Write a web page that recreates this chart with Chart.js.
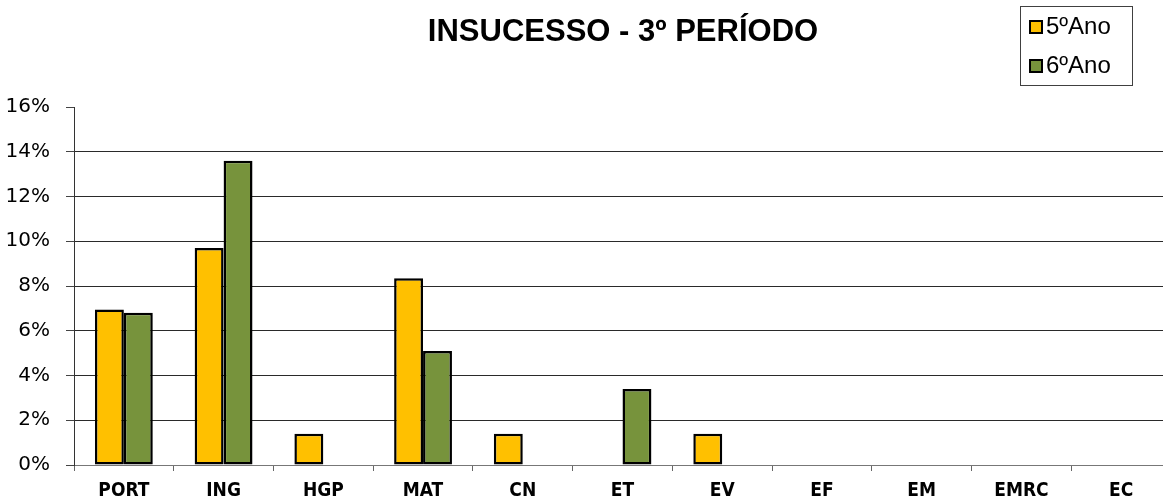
<!DOCTYPE html>
<html>
<head>
<meta charset="utf-8">
<script src="https://cdn.jsdelivr.net/npm/chart.js@4"></script>
<style>
  html, body { margin: 0; padding: 0; background: #fff; overflow: hidden; }
  #wrap { position: relative; width: 1180px; height: 504px; }
</style>
</head>
<body>
<div id="wrap"><canvas id="c" width="1180" height="504"></canvas></div>
<script>
const title = 'INSUCESSO - 3º PERÍODO';
const categories = ['PORT', 'ING', 'HGP', 'MAT', 'CN', 'ET', 'EV', 'EF', 'EM', 'EMRC', 'EC'];
const seriesNames = ['5ºAno', '6ºAno'];
const ano5 = [0.0695, 0.097, 0.014, 0.0835, 0.014, null, 0.014, null, null, null, null];
const ano6 = [0.068, 0.136, null, 0.051, null, 0.034, null, null, null, null, null];
const yTicks = [0, 0.02, 0.04, 0.06, 0.08, 0.10, 0.12, 0.14, 0.16];
const colors = ['#FFC000', '#77933C'];

const overlay = {
  id: 'overlay',
  afterDraw(chart) {
    const ctx = chart.ctx;
    ctx.save();
    // title
    ctx.fillStyle = '#000';
    ctx.font = 'bold 31px "Liberation Sans", Arial, sans-serif';
    ctx.textAlign = 'center';
    ctx.textBaseline = 'middle';
    ctx.fillText(title, 623, 32);
    // legend box
    ctx.strokeStyle = '#404040';
    ctx.lineWidth = 1;
    ctx.strokeRect(1020.5, 6.5, 112, 79);
    const rows = [27, 66];
    ctx.font = '24px "Liberation Sans", Arial, sans-serif';
    ctx.textAlign = 'left';
    chart.data.datasets.forEach((ds, i) => {
      const cy = rows[i];
      ctx.fillStyle = ds.backgroundColor;
      ctx.fillRect(1030, cy - 6, 12, 12);
      ctx.strokeStyle = '#000';
      ctx.lineWidth = 2;
      ctx.strokeRect(1030, cy - 6, 12, 12);
      ctx.fillStyle = '#000';
      ctx.fillText(ds.label, 1046, cy);
    });
    ctx.restore();
  }
};

new Chart(document.getElementById('c'), {
  type: 'bar',
  data: {
    labels: categories,
    datasets: [
      { label: seriesNames[0], data: ano5, backgroundColor: colors[0], borderColor: '#000', borderWidth: 2.5, borderSkipped: false },
      { label: seriesNames[1], data: ano6, backgroundColor: colors[1], borderColor: '#000', borderWidth: 2.5, borderSkipped: false }
    ]
  },
  options: {
    responsive: false,
    animation: false,
    devicePixelRatio: 1,
    layout: { padding: { top: 107, right: 9, left: 0, bottom: 0 } },
    datasets: { bar: { categoryPercentage: 0.58, barPercentage: 1.0 } },
    plugins: { legend: { display: false }, title: { display: false }, tooltip: { enabled: false } },
    scales: {
      x: {
        afterFit(s) { s.height = 39; },
        grid: { drawOnChartArea: false, drawTicks: true, tickLength: 6, color: '#666', offset: true },
        border: { display: true, color: '#777', width: 1 },
        ticks: {
          color: '#000',
          padding: 9,
          font: { family: '"Liberation Sans Narrow", "DejaVu Sans Condensed", "Liberation Sans", Arial', weight: 'bold', size: 19 }
        }
      },
      y: {
        min: 0, max: 0.16,
        afterFit(s) { s.width = 74; },
        afterBuildTicks(s) { s.ticks = yTicks.map(v => ({ value: v })); },
        grid: {
          tickLength: 8,
          color: ctx => (ctx.tick && Math.abs(ctx.tick.value - 0.16) < 1e-9) ? 'rgba(0,0,0,0)' : (ctx.tick && ctx.tick.value === 0 ? '#777' : '#2a2a2a'),
          tickColor: '#444',
          lineWidth: 1
        },
        border: { display: true, color: '#333', width: 1 },
        ticks: {
          color: '#000',
          padding: 16,
          font: { family: '"DejaVu Sans", Verdana, sans-serif', size: 20 },
          callback: v => Math.round(v * 100) + '%'
        }
      }
    }
  },
  plugins: [overlay]
});
</script>
</body>
</html>
